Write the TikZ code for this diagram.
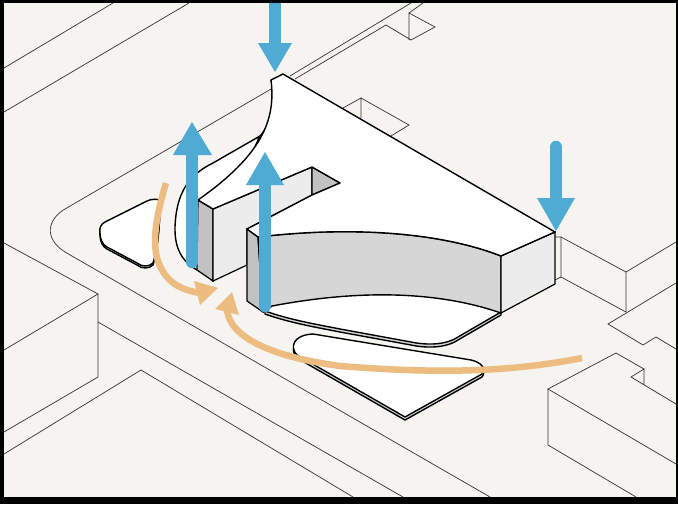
\documentclass[tikz,border=0pt]{standalone}
\usepackage{xcolor}
\usepackage{tikz}

\definecolor{paper}{HTML}{F5F4F0}
\definecolor{skyblue}{HTML}{4FABD3}
\definecolor{windorange}{HTML}{EDBC80}
\definecolor{facelight}{HTML}{ECECEC}
\definecolor{facemid}{HTML}{D6D6D6}
\definecolor{facedark}{HTML}{C2C2C2}

\begin{document}
\begin{tikzpicture}[
    x=1pt, y=-1pt,
    context/.style={draw=black!80, line width=0.7pt, line join=miter},
    heavy/.style={draw=black, line width=1.4pt, line join=round},
    edge/.style={draw=black, line width=1.2pt},
    windshaft/.style={draw=windorange, line width=6.5pt},
    windhead/.style={fill=windorange},
    skyshaft/.style={draw=skyblue, line width=12.5pt},
    skyhead/.style={fill=skyblue}
]
\useasboundingbox (0,0) rectangle (678,504);
\fill[black] (0,0) rectangle (678,504);
\fill[paper] (4,3) rectangle (676,497);

% site lines
\begin{scope}
\clip (4,3) rectangle (676,497);
\draw[context] (4,68) -- (113,3);
\draw[context] (4,112) -- (189,3);
\draw[context] (290,78) -- (65,209) .. controls (48,219) and (43,238) .. (65,252) -- (490,497);
\draw[context] (290,76) -- (411,3);
\draw[context] (295,79) -- (386,25) -- (411,40) -- (435,27) -- (409,13) -- (409,40);
\draw[context] (409,13) -- (423,3);
\draw[context] (343,108) -- (361,98) -- (361,118);
\draw[context] (361,98) -- (409,125) -- (391,136);
% left blocks
\draw[context] (4,243) -- (98,294) -- (4,350);
\draw[context] (98,294) -- (98,377) -- (4,432);
\draw[context] (98,322) -- (403,497);
\draw[context] (4,454) -- (141,370) -- (353,497);
% right blocks
\draw[context] (555,237) -- (561,237) -- (626,272) -- (676,242);
\draw[context] (561,237) -- (561,277) -- (626,312) -- (626,272);
\draw[context] (555,280) -- (561,277);
\draw[context] (676,283) -- (608,324) -- (643,345) -- (656,337) -- (676,349);
\draw[context] (644,385) -- (644,369) -- (631,377) -- (676,404);
\draw[context] (676,464) -- (548,389) -- (616,353) -- (644,369);
\draw[context] (548,389) -- (548,445) -- (636,497);
\end{scope}

% islands
\draw[heavy, fill=facemid] (100,235) .. controls (99,230) and (101,226) .. (105,224) -- (147,203) .. controls (151,201) and (156,201) .. (160,202) .. controls (160,224) and (158,249) .. (153,265) .. controls (149,269) and (142,269) .. (137,265) -- (107,249) .. controls (103,247) and (100,242) .. (100,235) -- cycle;
\draw[heavy, fill=white] (100,233) .. controls (99,228) and (101,224) .. (105,222) -- (147,201) .. controls (151,199) and (156,199) .. (160,200) .. controls (160,222) and (158,247) .. (153,263) .. controls (149,267) and (142,267) .. (137,263) -- (107,247) .. controls (103,245) and (100,240) .. (100,233) -- cycle;
\draw[heavy, fill=facemid] (405,420) -- (297,358) .. controls (290,351) and (292,338) .. (313,337) -- (471,363) .. controls (480,365) and (487,371) .. (482,377) -- cycle;
\draw[heavy, fill=white] (405,417) -- (297,355) .. controls (290,348) and (292,335) .. (313,334) -- (471,360) .. controls (480,362) and (487,368) .. (482,374) -- cycle;

% plazas
\draw[heavy, fill=white] (260,136) -- (213,163) .. controls (195,172) and (180,185) .. (176,215) .. controls (172,245) and (180,260) .. (197,270) -- cycle;
\draw[heavy, fill=facemid] (265,314) .. controls (290,323) and (320,328) .. (340,332) -- (411,345) .. controls (430,349) and (448,347) .. (458,340) -- (501,315) -- (501,280) -- (265,280) -- cycle;
\draw[heavy, fill=white] (265,311) .. controls (290,320) and (320,325) .. (340,329) -- (411,342) .. controls (430,346) and (448,344) .. (458,337) -- (501,312) -- (501,280) -- (265,280) -- cycle;

% building faces
\filldraw[edge, fill=facedark] (198,200) -- (213,209) -- (213,281) -- (197,270) -- cycle;
\filldraw[edge, fill=facelight] (213,209) -- (312,167) -- (312,195) -- (247,229) -- (247,265) -- (213,281) -- cycle;
\filldraw[edge, fill=facedark] (312,167) -- (340,183) -- (312,195) -- cycle;
\filldraw[edge, fill=facedark] (247,229) -- (258,237) -- (263,312) -- (247,301) -- cycle;
\filldraw[heavy, fill=facemid] (258,237) .. controls (350,226) and (440,232) .. (501,256) -- (501,313) .. controls (420,285) and (330,295) .. (272,306) -- (263,312) -- cycle;
\filldraw[edge, fill=facelight] (555,232) -- (555,284) -- (501,313) -- (501,256) -- cycle;
\filldraw[edge, fill=facemid] (271,80) .. controls (280,100) and (277,125) .. (260,136) .. controls (274,120) and (276,100) .. (271,80) -- cycle;
\filldraw[heavy, fill=white] (271,80) -- (283,74) -- (555,232) -- (501,256) .. controls (440,232) and (350,226) .. (258,237) -- (247,229) -- (312,195) -- (340,183) -- (312,167) -- (213,209) -- (198,200) .. controls (262,155) and (276,120) .. (271,80) -- cycle;

% wind
\draw[windshaft] (166,183) .. controls (155,220) and (150,250) .. (162,270) .. controls (170,284) and (182,290) .. (200,293);
\fill[windhead] (218,288) -- (194,281) -- (200,305) -- cycle;
\draw[windshaft] (582,358) .. controls (510,372) and (440,374) .. (340,366) .. controls (280,358) and (228,340) .. (227,308);
\fill[windhead] (232,292) -- (215,309) -- (239,315) -- cycle;

% sun and rain
\draw[skyshaft] (275,3) -- (275,44);
\fill[skyhead] (258,43) -- (292,43) -- (275,72) -- cycle;
\draw[skyshaft, line cap=round] (556,147) -- (556,199);
\fill[skyhead] (537,198) -- (575,198) -- (556,231) -- cycle;
\draw[skyshaft, line cap=round] (192,262) -- (192,154);
\fill[skyhead] (173,155) -- (212,155) -- (192,122) -- cycle;
\draw[skyshaft, line cap=round] (265,306) -- (265,184);
\fill[skyhead] (246,185) -- (284,185) -- (265,152) -- cycle;
\end{tikzpicture}
\end{document}
